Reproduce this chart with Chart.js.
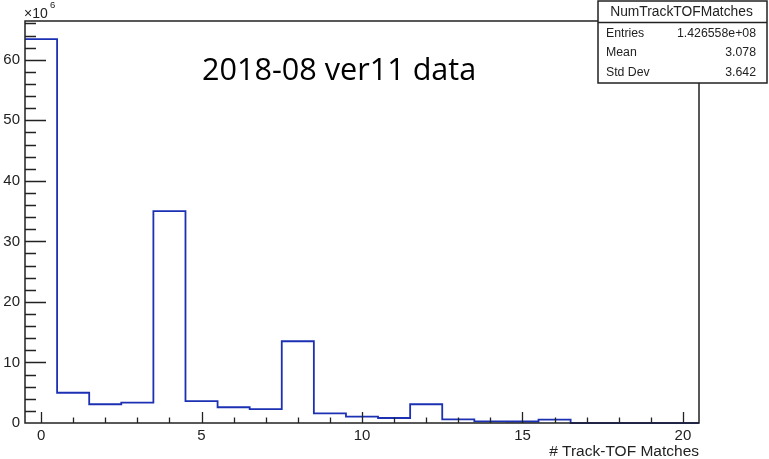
<!DOCTYPE html>
<html>
<head>
<meta charset="utf-8">
<title>NumTrackTOFMatches</title>
<script src="https://cdn.jsdelivr.net/npm/chart.js@4.4.1/dist/chart.umd.min.js"></script>
<style>
  html, body { margin: 0; padding: 0; background: #fff; }
</style>
</head>
<body>
<canvas id="hist" width="769" height="459"></canvas>
<script>
// histogram bins (centres) and contents, in units of 10^6 entries
var binCenters = [0, 1, 2, 3, 4, 5, 6, 7, 8, 9, 10, 11, 12, 13, 14, 15, 16, 17, 18, 19, 20];
var binCounts  = [63.4, 5.0, 3.1, 3.35, 35.0, 3.6, 2.6, 2.3, 13.5, 1.6, 1.05, 0.83, 3.1, 0.6, 0.28, 0.25, 0.55, 0, 0, 0, 0];

var xTickLabels = [0, 5, 10, 15, 20];
var yTickLabels = [0, 10, 20, 30, 40, 50, 60];

var histName = 'NumTrackTOFMatches';
var statNames = ['Entries', 'Mean', 'Std Dev'];
var statValues = ['1.426558e+08', '3.078', '3.642'];

var plotTitle = '2018-08 ver11 data';
var xTitle = '# Track-TOF Matches';

// step outline: one point per left bin edge, plus closing right edge
var outline = [];
for (var i = 0; i < binCenters.length; i++) {
    outline.push({ x: binCenters[i] - 0.5, y: binCounts[i] });
}
outline.push({ x: binCenters[binCenters.length - 1] + 0.5, y: 0 });

var axisColor = '#222';
var labelFont = '"Liberation Sans", Arial, sans-serif';

// ROOT-style frame, inward ticks, stats box and texts
var rootDecor = {
    id: 'rootDecor',
    afterDatasetsDraw: function(chart) {
        var ctx = chart.ctx;
        var a = chart.chartArea;
        var xs = chart.scales.x, ys = chart.scales.y;
        ctx.save();
        ctx.strokeStyle = axisColor;
        ctx.lineWidth = 1.5;
        ctx.strokeRect(a.left, a.top, a.right - a.left, a.bottom - a.top);

        ctx.lineWidth = 1.3;
        ctx.beginPath();
        ys.ticks.forEach(function(t) {
            var y = Math.round(ys.getPixelForValue(t.value)) + 0.5;
            var len = (t.value % 10 === 0) ? 21 : 11;
            if (t.value === 0) return;
            ctx.moveTo(a.left, y);
            ctx.lineTo(a.left + len, y);
        });
        xs.ticks.forEach(function(t) {
            if (t.value !== Math.round(t.value)) return;
            var x = Math.round(xs.getPixelForValue(t.value)) + 0.5;
            var len = (t.value % 5 === 0) ? 11 : 5.5;
            ctx.moveTo(x, a.bottom);
            ctx.lineTo(x, a.bottom - len);
        });
        ctx.stroke();

        // x10^6 exponent
        ctx.fillStyle = '#222';
        ctx.font = '14px ' + labelFont;
        ctx.textAlign = 'left';
        ctx.textBaseline = 'alphabetic';
        ctx.fillText('\u00d710', 24, 18);
        ctx.font = '9.5px ' + labelFont;
        ctx.fillText('6', 50, 8);

        // plot title
        ctx.fillStyle = '#000';
        ctx.font = '30.6px "Open Sans", sans-serif';
        ctx.fillText(plotTitle, 202, 80);

        // stats box
        var bx = 598, by = 1, bw = 169, bh = 82;
        ctx.fillStyle = '#fff';
        ctx.fillRect(bx, by, bw, bh);
        ctx.strokeStyle = axisColor;
        ctx.lineWidth = 1.5;
        ctx.strokeRect(bx, by, bw, bh);
        ctx.beginPath();
        ctx.moveTo(bx, 22.5);
        ctx.lineTo(bx + bw, 22.5);
        ctx.stroke();
        ctx.fillStyle = '#222';
        ctx.font = '13.8px ' + labelFont;
        ctx.textAlign = 'center';
        ctx.textBaseline = 'middle';
        ctx.fillText(histName, bx + bw / 2 - 1, 12);
        ctx.font = '12.3px ' + labelFont;
        for (var k = 0; k < statNames.length; k++) {
            var ry = 33.5 + k * 19.5;
            ctx.textAlign = 'left';
            ctx.fillText(statNames[k], 606, ry);
            ctx.textAlign = 'right';
            ctx.fillText(statValues[k], 756, ry);
        }
        ctx.restore();
    }
};

new Chart(document.getElementById('hist'), {
    type: 'line',
    data: {
        datasets: [{
            data: outline,
            stepped: 'before',
            borderColor: '#1c30b4',
            borderWidth: 1.8,
            pointRadius: 0,
            fill: false,
            clip: false
        }]
    },
    options: {
        responsive: false,
        animation: false,
        events: [],
        layout: { padding: { top: 21, right: 70, left: 0, bottom: 0 } },
        plugins: { legend: { display: false }, tooltip: { enabled: false } },
        scales: {
            x: {
                type: 'linear',
                min: -0.5,
                max: 20.5,
                grid: { display: false, drawTicks: false },
                border: { display: false },
                afterBuildTicks: function(s) {
                    s.ticks = binCenters.map(function(v) { return { value: v }; });
                },
                afterFit: function(s) { s.height = 36; },
                ticks: {
                    autoSkip: false,
                    maxRotation: 0,
                    padding: 4,
                    color: '#222',
                    font: { family: labelFont, size: 15 },
                    callback: function(v) { return xTickLabels.indexOf(v) >= 0 ? String(v) : ''; }
                },
                title: {
                    display: true,
                    text: xTitle,
                    align: 'end',
                    color: '#222',
                    padding: { top: 0, bottom: 0 },
                    font: { family: labelFont, size: 15.5, lineHeight: 1 }
                }
            },
            y: {
                type: 'linear',
                min: 0,
                max: 66.4,
                grid: { display: false, drawTicks: false },
                border: { display: false },
                afterBuildTicks: function(s) {
                    var t = [];
                    for (var v = 0; v <= 66; v += 2) t.push({ value: v });
                    s.ticks = t;
                },
                afterFit: function(s) { s.width = 25; },
                ticks: {
                    autoSkip: false,
                    padding: 5,
                    color: '#222',
                    font: { family: labelFont, size: 15 },
                    callback: function(v) { return yTickLabels.indexOf(v) >= 0 ? String(v) : ''; }
                }
            }
        }
    },
    plugins: [rootDecor]
});
</script>
</body>
</html>
